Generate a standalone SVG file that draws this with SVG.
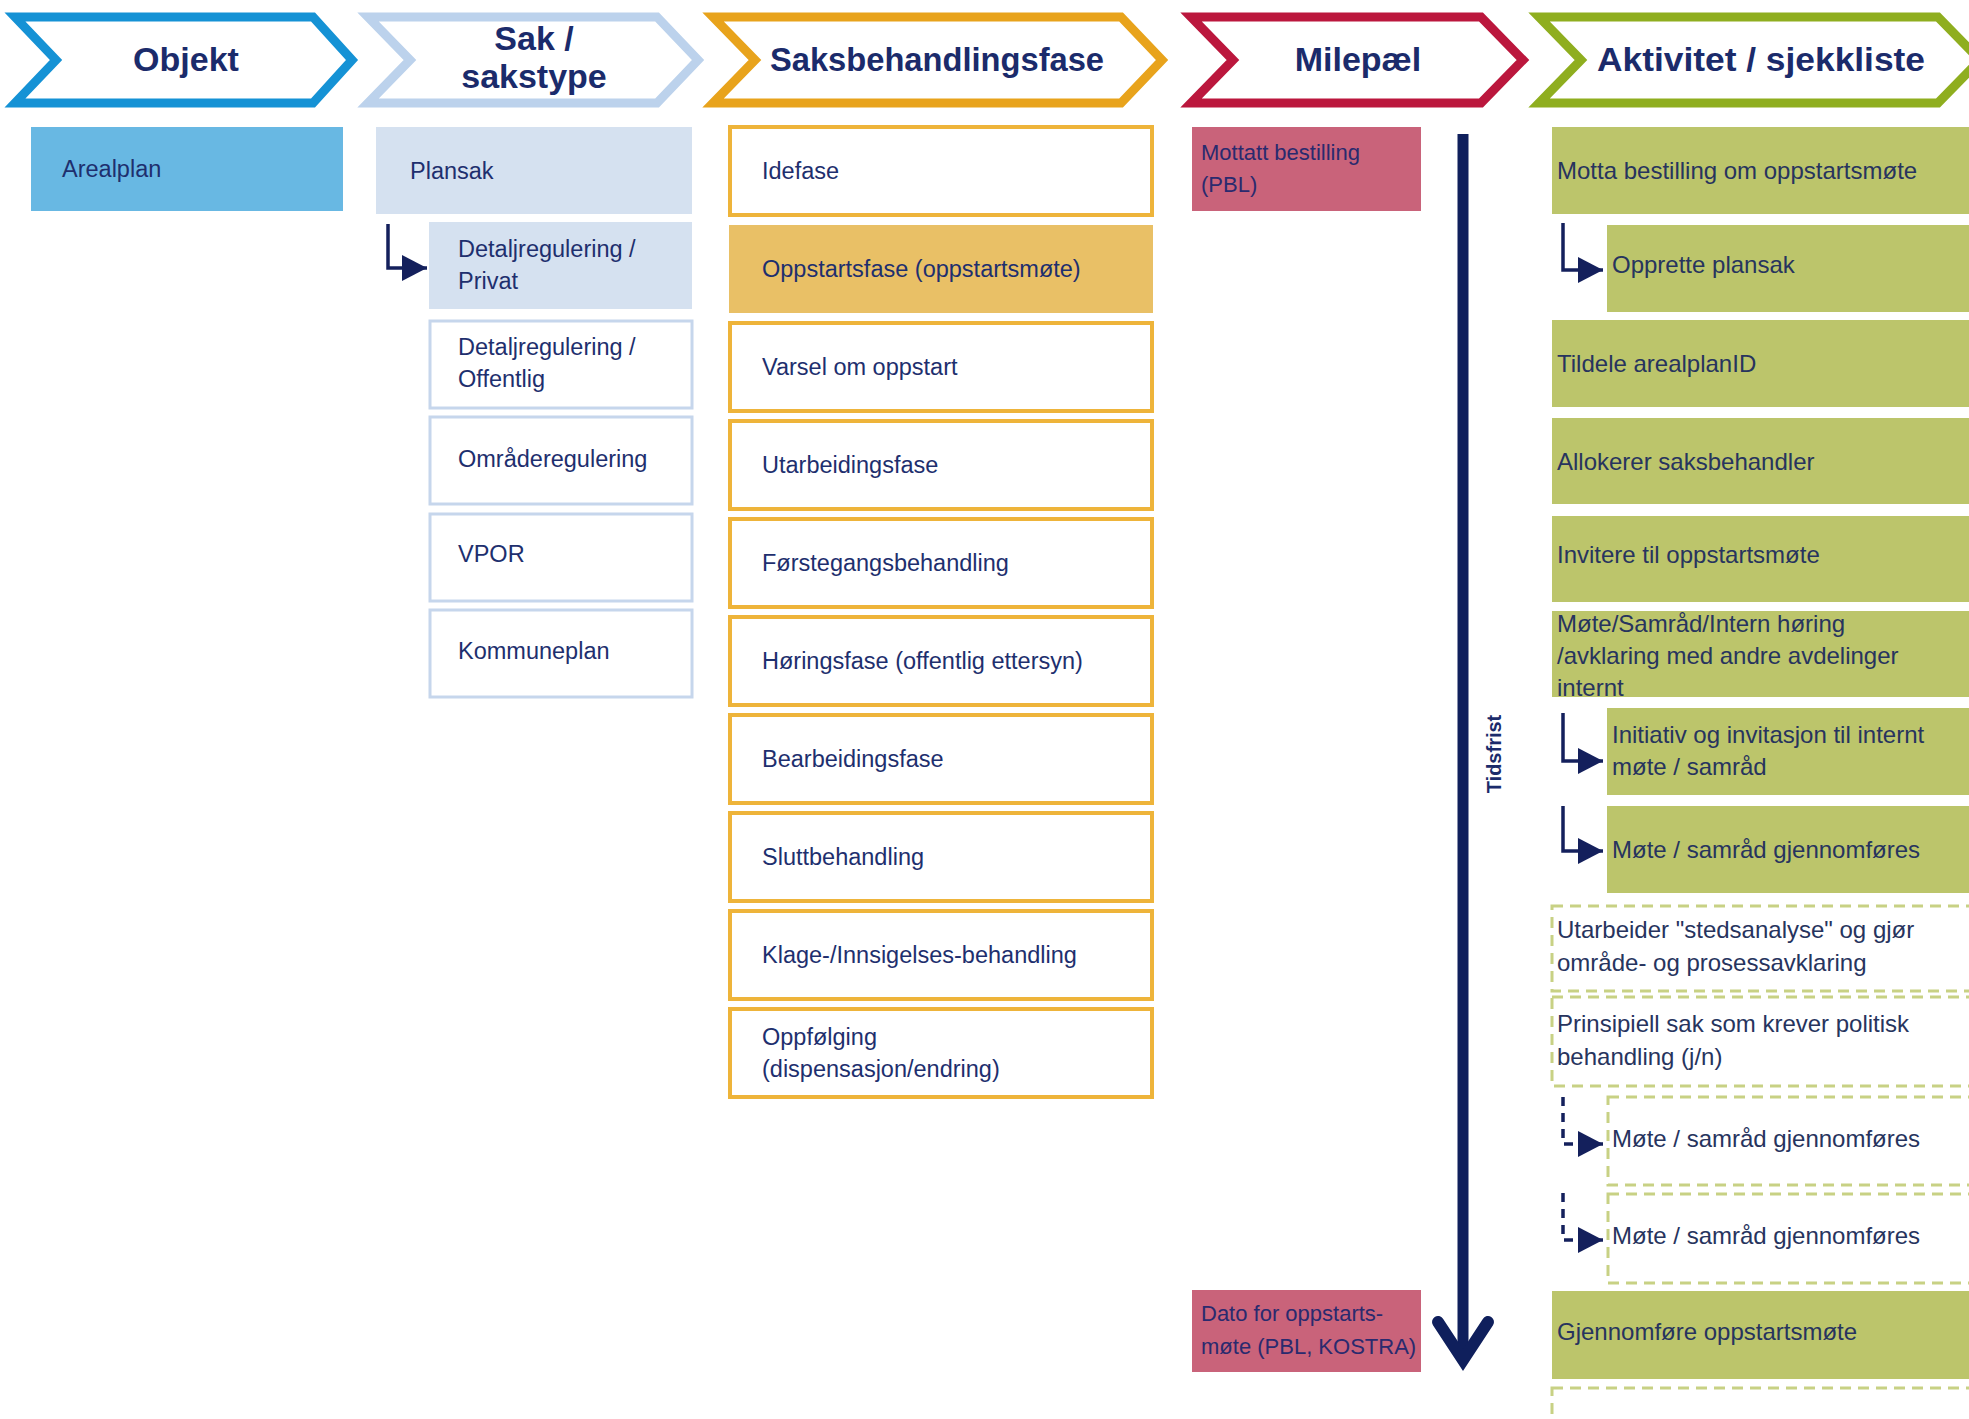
<svg xmlns="http://www.w3.org/2000/svg" width="1969" height="1419" viewBox="0 0 1969 1419">
<defs>
<style>
.hd{fill:#fff;stroke-width:9;stroke-linejoin:miter}
.ht{font-family:"Liberation Sans",Arial,sans-serif;font-weight:bold;font-size:34px;fill:#1b2b6b;text-anchor:middle}
.t{font-family:"Liberation Sans",Arial,sans-serif;font-size:23.5px;fill:#1e2f6e}
.tg{font-family:"Liberation Sans",Arial,sans-serif;font-size:24px;fill:#27345e}
.tm{font-family:"Liberation Sans",Arial,sans-serif;font-size:22px;fill:#2a2a6e}
.obj{fill:#68b8e3}
.sakf{fill:#d5e1f0}
.sakb{fill:#fff;stroke:#c6d6ec;stroke-width:3}
.fase{fill:#fff;stroke:#eeb43a;stroke-width:4}
.fasef{fill:#e9c066}
.mil{fill:#c9637a}
.akt{fill:#bcc56b}
.aktd{fill:#fff;stroke:#c8d184;stroke-width:3;stroke-dasharray:11 7}
.con{fill:none;stroke:#14205c;stroke-width:3.5}
.cond{fill:none;stroke:#14205c;stroke-width:3.5;stroke-dasharray:9 7}
</style>
<marker id="ah" markerUnits="userSpaceOnUse" markerWidth="27" markerHeight="27" refX="25" refY="13" orient="auto">
<path d="M0,0 L25,13 L0,26 z" fill="#14205c"/>
</marker>
</defs>
<rect width="1969" height="1419" fill="#fff"/>

<g id="header-objekt">
<polygon class="hd" stroke="#1592d5" points="15,17 313,17 352,60 313,103 15,103 56,60"/>
<text class="ht" x="186" y="71">Objekt</text>
</g>
<g id="header-sak">
<polygon class="hd" stroke="#bcd2ec" points="368,17 657,17 698,60 657,103 368,103 410,60"/>
<text class="ht" x="534" y="50">Sak /</text>
<text class="ht" x="534" y="88">sakstype</text>
</g>
<g id="header-fase">
<polygon class="hd" stroke="#e8a31c" points="713,17 1121,17 1162,60 1121,103 713,103 755,60"/>
<text class="ht" x="937" y="71" textLength="334" lengthAdjust="spacingAndGlyphs">Saksbehandlingsfase</text>
</g>
<g id="header-milepael">
<polygon class="hd" stroke="#bb173d" points="1191,17 1481,17 1523,60 1481,103 1191,103 1233,60"/>
<text class="ht" x="1358" y="71">Milepæl</text>
</g>
<g id="header-aktivitet">
<polygon class="hd" stroke="#8fae1f" points="1539,17 1938,17 1980,60 1938,103 1539,103 1581,60"/>
<text class="ht" x="1761" y="71" textLength="328" lengthAdjust="spacingAndGlyphs">Aktivitet / sjekkliste</text>
</g>

<g id="arealplan"><rect class="obj" x="31" y="127" width="312" height="84"/><text class="t" x="62" y="177">Arealplan</text></g>

<g id="plansak"><rect class="sakf" x="376" y="127" width="316" height="87"/><text class="t" x="410" y="179">Plansak</text></g>
<g id="detalj-privat"><rect class="sakf" x="429" y="222" width="263" height="87"/><text class="t" x="458" y="257">Detaljregulering /</text><text class="t" x="458" y="289">Privat</text></g>
<g id="detalj-offentlig"><rect class="sakb" x="430" y="321" width="262" height="87"/><text class="t" x="458" y="355">Detaljregulering /</text><text class="t" x="458" y="387">Offentlig</text></g>
<g id="omraderegulering"><rect class="sakb" x="430" y="417" width="262" height="87"/><text class="t" x="458" y="467">Områderegulering</text></g>
<g id="vpor"><rect class="sakb" x="430" y="514" width="262" height="87"/><text class="t" x="458" y="562">VPOR</text></g>
<g id="kommuneplan"><rect class="sakb" x="430" y="610" width="262" height="87"/><text class="t" x="458" y="659">Kommuneplan</text></g>

<g id="idefase"><rect class="fase" x="730" y="127" width="422" height="88"/><text class="t" x="762" y="179">Idefase</text></g>
<g id="oppstartsfase"><rect class="fasef" x="729" y="225" width="424" height="88"/><text class="t" x="762" y="277">Oppstartsfase (oppstartsmøte)</text></g>
<g id="varsel"><rect class="fase" x="730" y="323" width="422" height="88"/><text class="t" x="762" y="375">Varsel om oppstart</text></g>
<g id="utarbeidingsfase"><rect class="fase" x="730" y="421" width="422" height="88"/><text class="t" x="762" y="473">Utarbeidingsfase</text></g>
<g id="forstegang"><rect class="fase" x="730" y="519" width="422" height="88"/><text class="t" x="762" y="571">Førstegangsbehandling</text></g>
<g id="horingsfase"><rect class="fase" x="730" y="617" width="422" height="88"/><text class="t" x="762" y="669">Høringsfase (offentlig ettersyn)</text></g>
<g id="bearbeidingsfase"><rect class="fase" x="730" y="715" width="422" height="88"/><text class="t" x="762" y="767">Bearbeidingsfase</text></g>
<g id="sluttbehandling"><rect class="fase" x="730" y="813" width="422" height="88"/><text class="t" x="762" y="865">Sluttbehandling</text></g>
<g id="klage"><rect class="fase" x="730" y="911" width="422" height="88"/><text class="t" x="762" y="963">Klage-/Innsigelses-behandling</text></g>
<g id="oppfolging"><rect class="fase" x="730" y="1009" width="422" height="88"/><text class="t" x="762" y="1045">Oppfølging</text><text class="t" x="762" y="1077">(dispensasjon/endring)</text></g>

<g id="mottatt"><rect class="mil" x="1192" y="127" width="229" height="84"/><text class="tm" x="1201" y="160">Mottatt bestilling</text><text class="tm" x="1201" y="192">(PBL)</text></g>
<g id="dato"><rect class="mil" x="1192" y="1290" width="229" height="82"/><text class="tm" x="1201" y="1321">Dato for oppstarts-</text><text class="tm" x="1201" y="1354">møte (PBL, KOSTRA)</text></g>

<g id="tidsfrist">
<line x1="1463" y1="134" x2="1463" y2="1360" stroke="#0f1f5c" stroke-width="11"/>
<polyline points="1438,1322 1463,1360 1488,1322" fill="none" stroke="#0f1f5c" stroke-width="12" stroke-linecap="round" stroke-linejoin="miter"/>
<text transform="translate(1501,754) rotate(-90)" text-anchor="middle" font-family="Liberation Sans, Arial, sans-serif" font-weight="bold" font-size="20" fill="#1b2b6b">Tidsfrist</text>
</g>

<g id="motta"><rect class="akt" x="1552" y="127" width="430" height="87"/><text class="tg" x="1557" y="179">Motta bestilling om oppstartsmøte</text></g>
<g id="opprette"><rect class="akt" x="1607" y="225" width="375" height="87"/><text class="tg" x="1612" y="273">Opprette plansak</text></g>
<g id="tildele"><rect class="akt" x="1552" y="320" width="430" height="87"/><text class="tg" x="1557" y="372">Tildele arealplanID</text></g>
<g id="allokerer"><rect class="akt" x="1552" y="418" width="430" height="86"/><text class="tg" x="1557" y="470">Allokerer saksbehandler</text></g>
<g id="invitere"><rect class="akt" x="1552" y="516" width="430" height="86"/><text class="tg" x="1557" y="563">Invitere til oppstartsmøte</text></g>
<g id="mote-samrad"><rect class="akt" x="1552" y="611" width="430" height="86"/><text class="tg" x="1557" y="632">Møte/Samråd/Intern høring</text><text class="tg" x="1557" y="664">/avklaring med andre avdelinger</text><text class="tg" x="1557" y="696">internt</text></g>
<g id="initiativ"><rect class="akt" x="1607" y="708" width="375" height="87"/><text class="tg" x="1612" y="743">Initiativ og invitasjon til internt</text><text class="tg" x="1612" y="775">møte / samråd</text></g>
<g id="mote-1"><rect class="akt" x="1607" y="806" width="375" height="87"/><text class="tg" x="1612" y="858">Møte / samråd gjennomføres</text></g>
<g id="utarbeider"><rect class="aktd" x="1552" y="906" width="430" height="85"/><text class="tg" x="1557" y="938">Utarbeider "stedsanalyse" og gjør</text><text class="tg" x="1557" y="971">område- og prosessavklaring</text></g>
<g id="prinsipiell"><rect class="aktd" x="1552" y="997" width="430" height="89"/><text class="tg" x="1557" y="1032">Prinsipiell sak som krever politisk</text><text class="tg" x="1557" y="1065">behandling (j/n)</text></g>
<g id="mote-2"><rect class="aktd" x="1608" y="1097" width="375" height="88"/><text class="tg" x="1612" y="1147">Møte / samråd gjennomføres</text></g>
<g id="mote-3"><rect class="aktd" x="1608" y="1194" width="375" height="89"/><text class="tg" x="1612" y="1244">Møte / samråd gjennomføres</text></g>
<g id="gjennomfore"><rect class="akt" x="1552" y="1291" width="430" height="88"/><text class="tg" x="1557" y="1340">Gjennomføre oppstartsmøte</text></g>
<g id="neste"><rect class="aktd" x="1552" y="1388" width="430" height="60"/></g>

<g id="connectors">
<path class="con" d="M388,224 V268 H427" marker-end="url(#ah)"/>
<path class="con" d="M1563,223 V270 H1603" marker-end="url(#ah)"/>
<path class="con" d="M1563,713 V761 H1603" marker-end="url(#ah)"/>
<path class="con" d="M1563,806 V851 H1603" marker-end="url(#ah)"/>
<path class="cond" d="M1563,1097 V1144 H1603" marker-end="url(#ah)"/>
<path class="cond" d="M1563,1193 V1240 H1603" marker-end="url(#ah)"/>
</g>
</svg>
